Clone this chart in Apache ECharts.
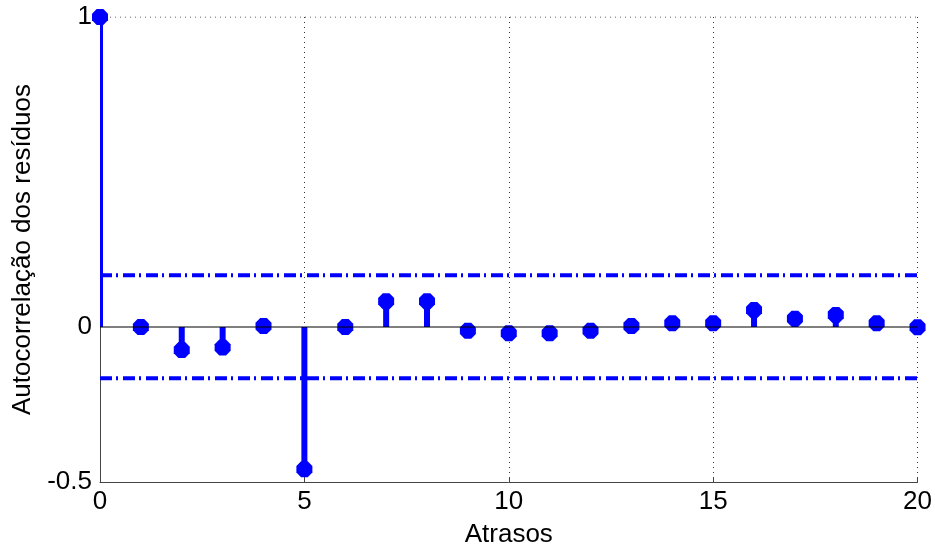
<!DOCTYPE html>
<html><head><meta charset="utf-8">
<script src="https://cdn.jsdelivr.net/npm/echarts@6/dist/echarts.min.js"></script>
<style>html,body{margin:0;padding:0;background:#fff}#c{width:935px;height:554px}</style>
</head><body><div id="c"></div>
<script>
const lags = [0,1,2,3,4,5,6,7,8,9,10,11,12,13,14,15,16,17,18,19,20];
const acf = [1,0.0,-0.074,-0.066,0.003,-0.459,0.0,0.083,0.083,-0.012,-0.02,-0.02,-0.012,0.003,0.012,0.012,0.055,0.027,0.039,0.012,-0.001];
const confUpper = 0.167;
const confLower = -0.165;
const xTicks = [0,5,10,15,20];
const yTicks = [-0.5,0,1];
const xRange = [0,20];

const blue = '#0000FF';
const font = 'Liberation Sans, Arial, sans-serif';
const octagon = 'path://M-0.414,-1L0.414,-1L1,-0.414L1,0.414L0.414,1L-0.414,1L-1,0.414L-1,-0.414Z';

const chart = echarts.init(document.getElementById('c'), null, {renderer:'canvas'});
chart.setOption({
  animation:false,
  grid:{left:100,right:17,top:17,bottom:72},
  xAxis:{type:'value',min:xRange[0],max:xRange[1],interval:5,
    name:'Atrasos',nameLocation:'middle',nameGap:40,
    nameTextStyle:{fontFamily:font,fontSize:26,color:'#000'},
    axisLine:{show:true,onZero:false,lineStyle:{color:'#444',width:1}},
    axisTick:{show:true,inside:true,length:5,lineStyle:{color:'#444'}},
    axisLabel:{fontFamily:font,fontSize:26,color:'#000',margin:7,
      formatter:v=>xTicks.includes(v)?String(v):''},
    splitLine:{show:true,lineStyle:{color:'#333',type:[1,4],width:1}}
  },
  yAxis:{type:'value',min:-0.5,max:1,interval:0.5,
    name:'Autocorrelação dos resíduos',nameLocation:'middle',nameGap:62,
    nameTextStyle:{fontFamily:font,fontSize:26,color:'#000'},
    axisLine:{show:true,onZero:false,lineStyle:{color:'#444',width:1}},
    axisTick:{show:false},
    axisLabel:{fontFamily:font,fontSize:26,color:'#000',margin:8,
      formatter:v=>yTicks.includes(v)?String(v):''},
    splitLine:{show:false}
  },
  series:[
    {type:'line',data:xRange.map(x=>[x,1]),symbol:'none',silent:true,z:1,
      lineStyle:{color:'#333',type:[1,4],width:1}},
    {type:'line',data:xRange.map(x=>[x,confUpper]),symbol:'none',z:2,
      lineStyle:{color:blue,width:4,type:[12,4,2,5],cap:'butt'}},
    {type:'line',data:xRange.map(x=>[x,confLower]),symbol:'none',z:2,
      lineStyle:{color:blue,width:4,type:[12,4,2,5],cap:'butt'}},
    {type:'custom',z:3,clip:true,
      renderItem:(params,api)=>{
        const p0=api.coord([api.value(0),0]);
        const p1=api.coord([api.value(0),api.value(1)]);
        return {type:'line',shape:{x1:p0[0],y1:p0[1],x2:p1[0],y2:p1[1]},
          style:{stroke:blue,lineWidth:6}};
      },
      data:lags.map((l,i)=>[l,acf[i]])},
    {type:'scatter',z:4,symbol:octagon,symbolSize:16,clip:false,
      itemStyle:{color:blue,opacity:1},
      data:lags.map((l,i)=>[l,acf[i]])},
    {type:'line',z:5,data:xRange.map(x=>[x,0]),symbol:'none',
      lineStyle:{color:'#000',width:1}}
  ]
});
</script></body></html>
